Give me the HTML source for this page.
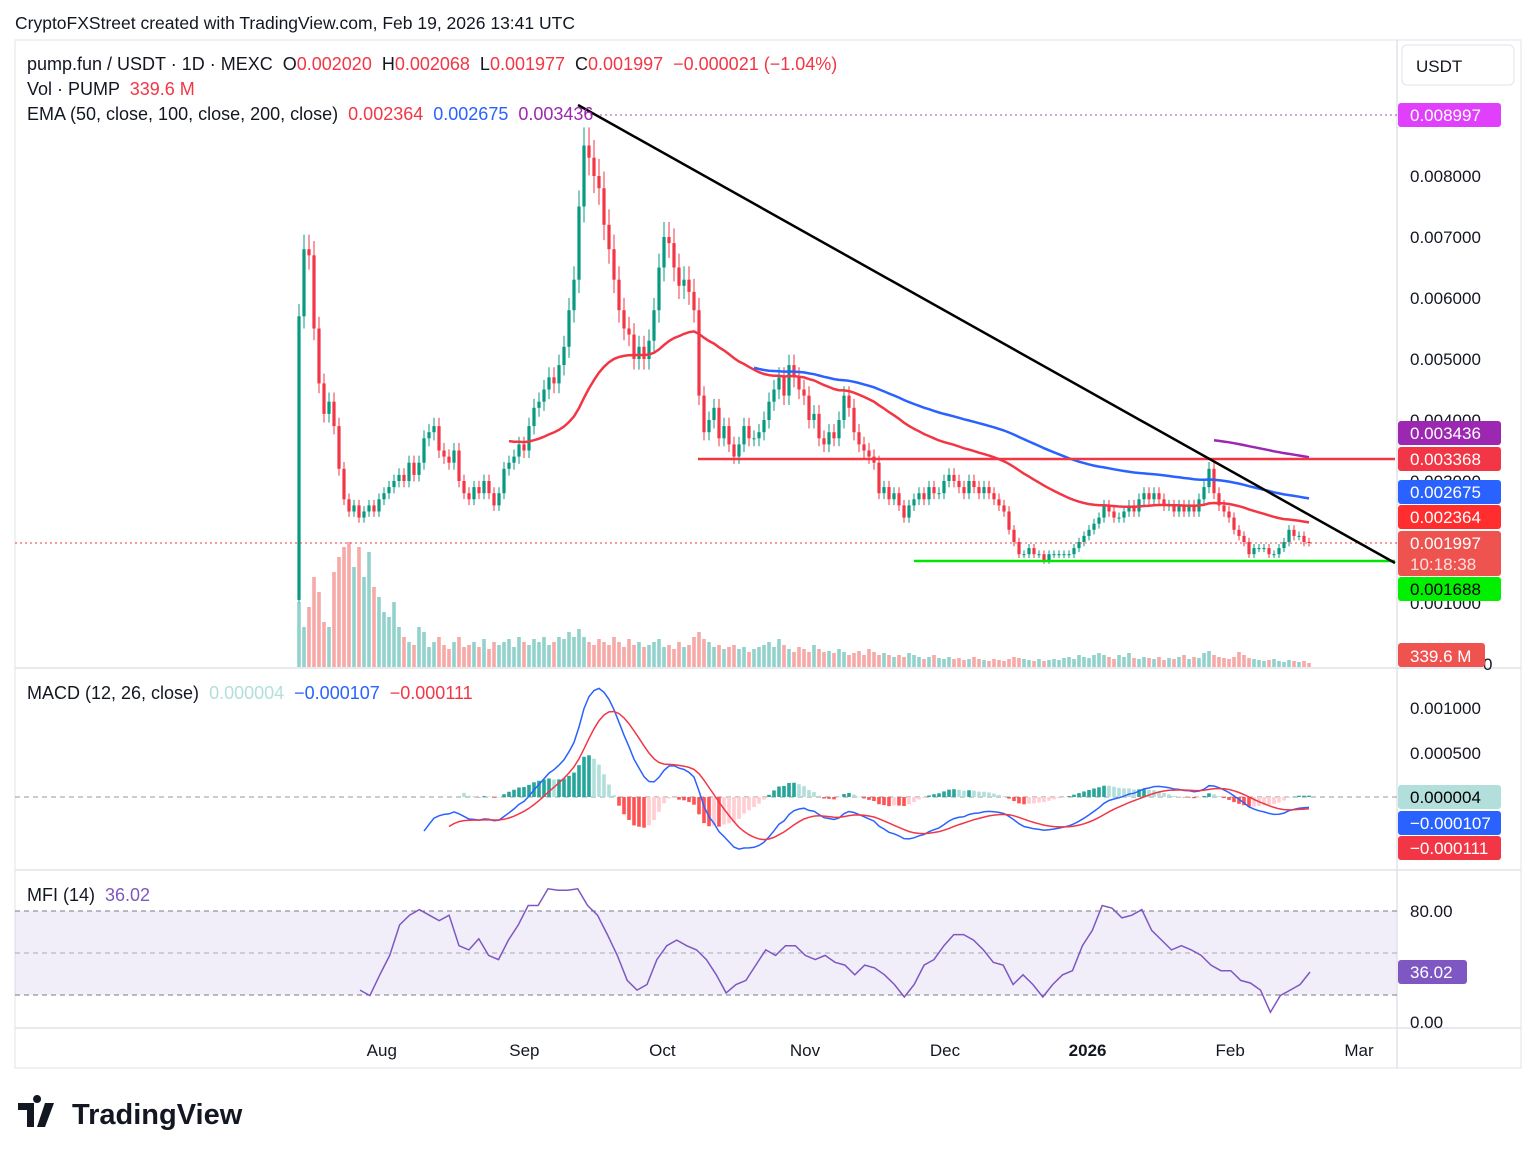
<!DOCTYPE html>
<html><head><meta charset="utf-8">
<style>
body{margin:0;background:#fff;width:1536px;height:1159px;overflow:hidden;font-family:"Liberation Sans",Arial,sans-serif;}
svg text{font-family:"Liberation Sans",Arial,sans-serif;}
.leg text{white-space:pre;}
</style></head>
<body>
<svg id="chart" width="1536" height="1159" viewBox="0 0 1536 1159" xmlns="http://www.w3.org/2000/svg">
<rect x="0" y="0" width="1536" height="1159" fill="#fff"/>
<text x="15" y="29" font-size="17.5" fill="#131722">CryptoFXStreet created with TradingView.com, Feb 19, 2026 13:41 UTC</text>
<rect x="15" y="40" width="1506" height="1028" fill="none" stroke="#e0e3eb"/>
<rect x="15" y="911" width="1382" height="84" fill="rgba(126,87,194,0.1)"/>
<g id="grid" stroke="#e0e3eb" stroke-width="1.5">
<line x1="15" y1="668" x2="1521" y2="668"/><line x1="15" y1="870" x2="1521" y2="870"/><line x1="15" y1="1028" x2="1521" y2="1028"/><line x1="1397" y1="40" x2="1397" y2="1068"/>
</g>
<g id="vol"></g>
<g id="candles"></g>
<g id="emas"></g>
<g id="draw">
<line x1="15" y1="543" x2="1397" y2="543" stroke="#f23645" stroke-dasharray="2,3" stroke-width="1"/>
<line x1="590" y1="115" x2="1397" y2="115" stroke="#ab47bc" stroke-dasharray="2,3" stroke-width="1"/>
<line x1="698" y1="459" x2="1395" y2="459" stroke="#f23645" stroke-width="2.5"/>
<line x1="914" y1="561" x2="1395" y2="561" stroke="#00e600" stroke-width="2.5"/>
<line x1="578" y1="105" x2="1395" y2="563" stroke="#000" stroke-width="2.5"/>
</g>
<line x1="15" y1="797" x2="1397" y2="797" stroke="#9598a1" stroke-dasharray="5,4"/>
<g id="macd"></g>
<g stroke="#787b86" stroke-dasharray="5,4">
<line x1="15" y1="911" x2="1397" y2="911"/><line x1="15" y1="953" x2="1397" y2="953" stroke-opacity="0.6"/><line x1="15" y1="995" x2="1397" y2="995"/>
</g>
<g id="mfi"></g>
<g class="leg" font-size="18">
<text x="27" y="70" fill="#131722">pump.fun / USDT · 1D · MEXC  O<tspan fill="#f23645">0.002020</tspan>  H<tspan fill="#f23645">0.002068</tspan>  L<tspan fill="#f23645">0.001977</tspan>  C<tspan fill="#f23645">0.001997</tspan>  <tspan fill="#f23645">−0.000021 (−1.04%)</tspan></text>
<text x="27" y="95" fill="#131722">Vol · PUMP  <tspan fill="#f23645">339.6 M</tspan></text>
<text x="27" y="120" fill="#131722">EMA (50, close, 100, close, 200, close)  <tspan fill="#f23645">0.002364</tspan>  <tspan fill="#2962ff">0.002675</tspan>  <tspan fill="#9c27b0">0.003436</tspan></text>
<text x="27" y="699" fill="#131722">MACD (12, 26, close)  <tspan fill="#b2dfdb">0.000004</tspan>  <tspan fill="#2962ff">−0.000107</tspan>  <tspan fill="#f23645">−0.000111</tspan></text>
<text x="27" y="901" fill="#131722">MFI (14)  <tspan fill="#7e57c2">36.02</tspan></text>
</g>
<g id="axis" font-size="17" fill="#131722">
<rect x="1402" y="45" width="112" height="40" rx="5" fill="#fff" stroke="#e0e3eb"/>
<text x="1416" y="72">USDT</text>
<text x="1410" y="182">0.008000</text><text x="1410" y="243">0.007000</text><text x="1410" y="304">0.006000</text><text x="1410" y="365">0.005000</text><text x="1410" y="426">0.004000</text><text x="1410" y="487">0.003000</text><text x="1410" y="609">0.001000</text><text x="1483" y="670">0</text>
<text x="1410" y="714">0.001000</text><text x="1410" y="759">0.000500</text>
<text x="1410" y="917">80.00</text><text x="1410" y="1028">0.00</text>
</g>
<g id="labels" font-size="17"></g>
<g id="time" font-size="17" fill="#131722"></g>
<g>
<path d="M18 1103h16v24h-7v-17h-9z M37 1103a4 4 0 1 1 0.1 0z M45 1103h9l-9 24h-8z" fill="#131722"/>
<text x="72" y="1124" font-size="29" font-weight="bold" fill="#131722">TradingView</text>
</g>
</svg>
<script>
const closes=[0.0057,0.0068,0.0067,0.0055,0.0046,0.0041,0.0043,0.0039,0.0032,0.0027,0.0025,0.0026,0.0024,0.0025,0.0026,0.0025,0.0027,0.0028,0.0029,0.0030,
0.0031,0.0030,0.0033,0.0031,0.0033,0.0037,0.0038,0.0039,0.0035,0.0034,0.0033,0.0035,0.0030,0.0028,0.0027,0.0029,0.0028,0.0030,0.0028,0.0026,
0.0028,0.0032,0.0033,0.0034,0.0036,0.0035,0.0039,0.0042,0.0043,0.0045,0.0047,0.0046,0.0049,0.0052,0.0058,0.0063,0.0075,0.0085,0.0083,0.0080,
0.0078,0.0072,0.0068,0.0063,0.0058,0.0055,0.0054,0.0050,0.0052,0.0050,0.0053,0.0058,0.0065,0.0070,0.0069,0.0065,0.0062,0.0063,0.0061,0.0058,
0.0044,0.0038,0.0040,0.0042,0.0037,0.0039,0.0036,0.0034,0.0036,0.0039,0.0037,0.0037,0.0038,0.0040,0.0043,0.0045,0.0047,0.0044,0.0049,0.0047,
0.0045,0.0044,0.0040,0.0041,0.0037,0.0036,0.0038,0.0037,0.0040,0.0044,0.0042,0.0038,0.0036,0.0035,0.0034,0.0033,0.0028,0.0029,0.0027,0.0028,
0.0026,0.0024,0.0026,0.0027,0.0028,0.0027,0.0029,0.0028,0.0028,0.0030,0.0031,0.0030,0.0029,0.0028,0.0030,0.0029,0.0028,0.0029,0.0028,0.0027,
0.0026,0.0025,0.0022,0.0020,0.0018,0.0018,0.0019,0.0018,0.0018,0.0017,0.0018,0.0018,0.0018,0.0018,0.0018,0.0019,0.0020,0.0021,0.0022,0.0023,
0.0024,0.0026,0.0025,0.0024,0.0024,0.0025,0.0026,0.0025,0.0027,0.0028,0.0027,0.0028,0.0027,0.0026,0.0026,0.0025,0.0026,0.0025,0.0026,0.0025,
0.0027,0.0029,0.0032,0.0028,0.0026,0.0025,0.0024,0.0022,0.0021,0.0020,0.0018,0.0019,0.0019,0.0019,0.0018,0.0018,0.0019,0.0020,0.0022,0.0021,
0.0021,0.0020,0.001997];
const firstOpen=0.00105;
const volumes=[65,40,60,90,75,45,40,95,110,120,125,100,120,90,115,80,70,55,50,65,
40,30,25,22,40,35,20,25,30,22,18,25,30,20,22,25,20,28,18,25,
22,25,28,20,30,25,22,28,25,30,22,25,30,28,35,30,38,30,25,22,
28,25,22,30,25,20,28,22,25,20,22,25,28,20,22,18,25,20,22,30,
35,28,25,20,22,18,20,22,18,20,15,18,20,22,25,20,28,22,18,15,
20,18,15,22,18,15,16,14,18,15,12,14,16,12,18,15,12,14,12,10,
12,10,14,12,10,8,10,12,9,8,10,8,9,7,8,10,8,7,6,8,
7,6,8,10,9,8,7,6,8,6,7,8,7,9,10,8,12,10,9,12,
14,12,10,8,12,10,14,9,8,10,9,8,10,7,9,8,10,12,8,10,
9,14,16,12,10,9,8,10,15,12,9,8,7,6,7,8,6,5,7,6,5,6,4];
const mfiValues=[23,19,34,48,70,77,81,77,73,77,55,52,60,48,45,59,70,84,84,96,95,95,96,84,77,63,48,30,23,27,45,55,59,55,52,45,34,21,27,30,41,52,48,55,55,48,45,48,43,41,34,41,39,34,27,18,27,41,45,55,63,63,59,52,43,41,27,34,27,18,27,34,37,55,66,84,82,75,77,81,66,59,52,55,52,48,41,37,37,30,28,23,7,19,23,27,36];
const emaPeriods=[50,100,200];
const emaStarts=[42,91,183];
const emaColors=['#f23645','#2962ff','#9c27b0'];
const timeLabels=['Aug','Sep','Oct','Nov','Dec','2026','Feb','Mar'];
const timeDays=[19,50,80,111,141,172,203,231];
const axisLabels=[
 ['0.008997',115,'#e040fb','#fff'],['0.003436',433,'#9c27b0','#fff'],['0.003368',459,'#f23645','#fff'],
 ['0.002675',492,'#2962ff','#fff'],['0.002364',517,'#ff2d2d','#fff'],['0.001688',589,'#00f000','#000'],
 ['0.000004',797,'#b2dfdb','#000'],['-0.000107',823,'#2962ff','#fff'],['-0.000111',848,'#f23645','#fff']];
const NS='http://www.w3.org/2000/svg';
const X0=299, STEP=5;
const xOf=i=>X0+i*STEP;
const yP=p=>176+(0.008-p)*61000;
const yM=v=>797-v*90000;
const yF=v=>1022-v*1.3875;
function mk(tag,attrs,parent){const e=document.createElementNS(NS,tag);for(const k in attrs)e.setAttribute(k,attrs[k]);parent.appendChild(e);return e;}
const gC=document.getElementById('candles'),gV=document.getElementById('vol'),gE=document.getElementById('emas'),gM=document.getElementById('macd'),gF=document.getElementById('mfi');
for(let i=0;i<closes.length;i++){
 const o=i===0?firstOpen:closes[i-1], c=closes[i];
 const up=c>=o, col=up?'#089981':'#f23645';
 const hi=Math.max(o,c)*1.035, lo=Math.min(o,c)*0.965;
 const x=xOf(i);
 const w=mk('line',{x1:x,x2:x,y1:yP(hi),y2:yP(lo),stroke:col,'stroke-width':1},gC);
 
 
 const t=Math.min(yP(o),yP(c)),h=Math.max(1,Math.abs(yP(o)-yP(c)));
 const b=mk('rect',{x:x-1.6,y:t,width:3.2,height:h,fill:col},gC);
 
 
 const vh=volumes[i];
 const v=mk('rect',{x:x-1.8,y:667-vh,width:3.6,height:vh,fill:up?'rgba(38,166,154,0.5)':'rgba(239,83,80,0.5)'},gV);
 
 
}
function ema(arr,p){const a=2/(p+1);const out=[];let e=arr[0];for(let i=0;i<arr.length;i++){e=i===0?arr[0]:a*arr[i]+(1-a)*e;out.push(e);}return out;}
emaPeriods.forEach((p,k)=>{
 const e=ema(closes,p);let d='';
 for(let i=emaStarts[k];i<e.length;i++)d+=(d?'L':'M')+xOf(i)+' '+yP(e[i]).toFixed(1);
 const pl=mk('path',{d:d,fill:'none',stroke:emaColors[k],'stroke-width':2.5},gE);
 
 
});
const e12=ema(closes,12),e26=ema(closes,26);
const macd=closes.map((_,i)=>e12[i]-e26[i]);
const sig=ema(macd,9);
const mStart=25;
for(let i=mStart+8;i<closes.length;i++){
 const hv=macd[i]-sig[i],prev=macd[i-1]-sig[i-1];
 let col=hv>=0?(hv>=prev?'#26a69a':'#b2dfdb'):(hv<prev?'#ff5252':'#ffcdd2');
 const y0=yM(0),y1=yM(hv);
 const r=mk('rect',{x:xOf(i)-1.8,y:Math.min(y0,y1),width:3.6,height:Math.max(0.5,Math.abs(y1-y0)),fill:col},gM);
 
 
}
[[macd,'#2962ff','macd-line',mStart],[sig,'#f23645','signal-line',mStart+5]].forEach(([s,c,n,st])=>{
 let d='';for(let i=st;i<s.length;i++)d+=(d?'L':'M')+xOf(i)+' '+Math.max(672,Math.min(866,yM(s[i]))).toFixed(1);
 const pl=mk('path',{d:d,fill:'none',stroke:c,'stroke-width':1.5},gM);
 
 
});
{let d='';const n=mfiValues.length;for(let i=0;i<n;i++){const x=360+i*(1310-360)/(n-1);d+=(d?'L':'M')+x.toFixed(1)+' '+yF(mfiValues[i]).toFixed(1);}
 const pl=mk('path',{d:d,fill:'none',stroke:'#7e57c2','stroke-width':1.5},gF);
 
 }
const gL=document.getElementById('labels');
axisLabels.forEach(([t,y,bg,fg])=>{
 const r=mk('rect',{x:1398,y:y-12,width:103,height:24,rx:3,fill:bg},gL);
 
 
 const tx=mk('text',{x:1410,y:y+6,fill:fg},gL);tx.textContent=t.replace('-','−');
 
 
});
{const r=mk('rect',{x:1398,y:531,width:103,height:45,rx:3,fill:'#ef5350'},gL);
 
 
 const t1=mk('text',{x:1410,y:549,fill:'#fff'},gL);t1.textContent='0.001997';
 
 
 const t2=mk('text',{x:1410,y:570,fill:'#fde0e0'},gL);t2.textContent='10:18:38';
 
 
 const r2=mk('rect',{x:1398,y:643,width:87,height:24,rx:3,fill:'#ef5350'},gL);
 
 
 const t3=mk('text',{x:1410,y:662,fill:'#fff'},gL);t3.textContent='339.6 M';
 
 
 const r3=mk('rect',{x:1398,y:960,width:69,height:24,rx:3,fill:'#7e57c2'},gL);
 
 
 const t4=mk('text',{x:1410,y:978,fill:'#fff'},gL);t4.textContent='36.02';
 
 }
const gT=document.getElementById('time');
timeLabels.forEach((l,k)=>{
 const x=X0+(timeDays[k]-1)*4.6+(k>3?2:0);
 const t=mk('text',{x:x,y:1056,'text-anchor':'middle','font-weight':l==='2026'?'bold':'normal'},gT);
 t.textContent=l;
 
 
});
</script>
</body></html>
